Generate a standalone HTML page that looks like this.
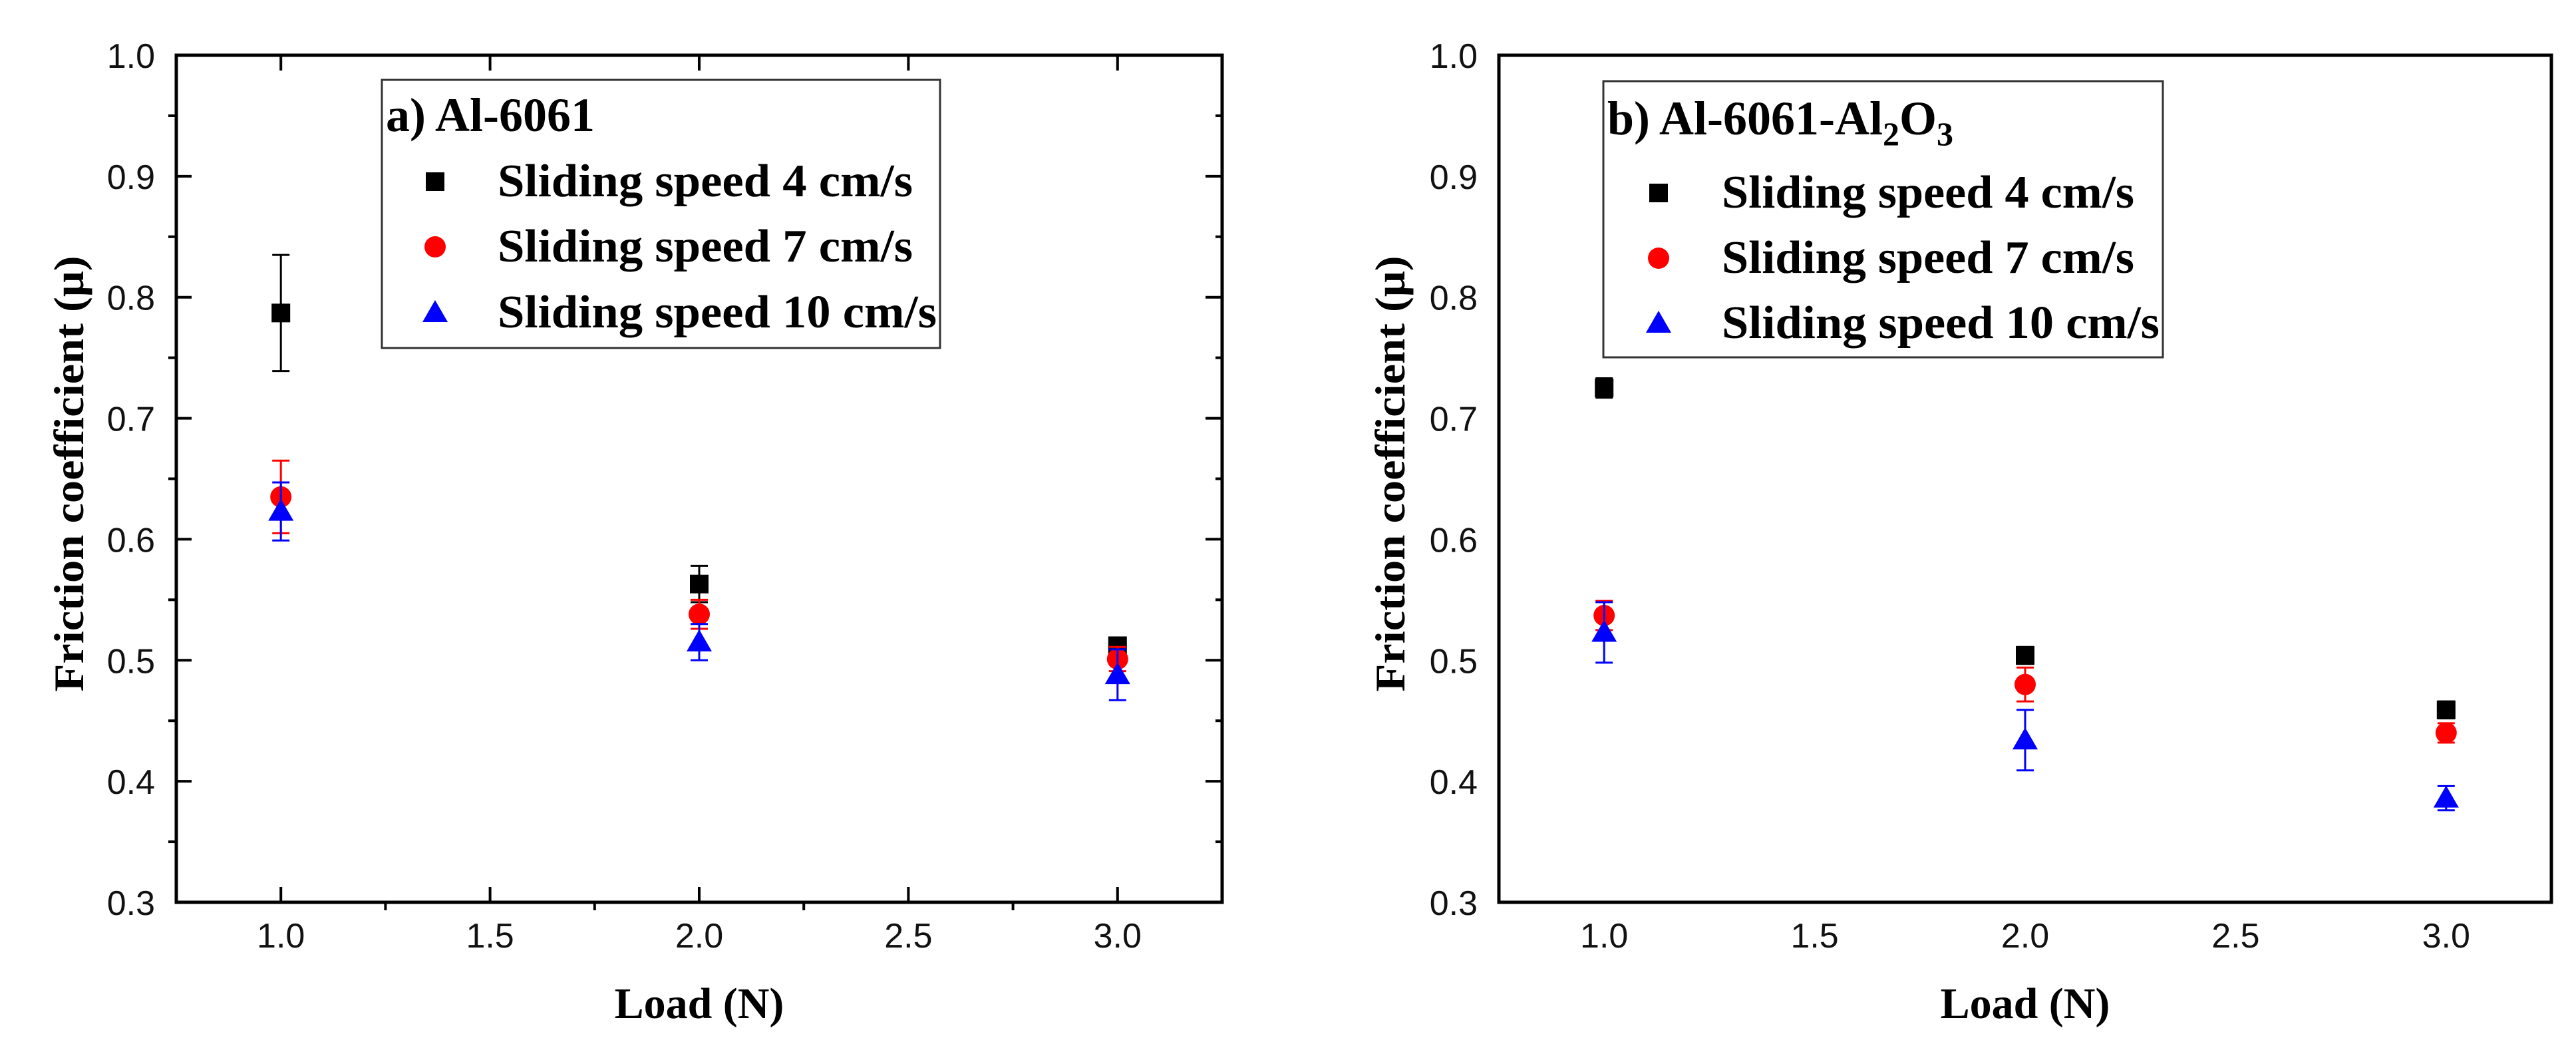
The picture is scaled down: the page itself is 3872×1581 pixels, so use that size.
<!DOCTYPE html>
<html><head><meta charset="utf-8"><style>
html,body{margin:0;padding:0;background:#fff;}
svg{display:block;}
.tick{font-family:"Liberation Sans",Arial,sans-serif;font-size:52px;fill:#111;}
.ser{font-family:"Liberation Serif","Times New Roman",serif;font-weight:bold;fill:#000;}
</style></head><body>
<svg id="chart" width="3872" height="1581" viewBox="0 0 3872 1581" xmlns="http://www.w3.org/2000/svg"></svg>
<script>
const loads = [1.0, 2.0, 3.0];
const seriesNames = ["Sliding speed 4 cm/s", "Sliding speed 7 cm/s", "Sliding speed 10 cm/s"];
const xTicks = [1.0, 1.5, 2.0, 2.5, 3.0];
const xTickLabels = ["1.0", "1.5", "2.0", "2.5", "3.0"];
const yTicks = [0.3, 0.4, 0.5, 0.6, 0.7, 0.8, 0.9, 1.0];
const yTickLabels = ["0.3", "0.4", "0.5", "0.6", "0.7", "0.8", "0.9", "1.0"];
// panel a
const aS4 = [0.787, 0.563, 0.512];
const aS4err = [0.048, 0.015, 0.005];
const aS7 = [0.635, 0.538, 0.501];
const aS7err = [0.030, 0.012, 0.010];
const aS10 = [0.623, 0.515, 0.488];
const aS10err = [0.024, 0.015, 0.021];
// panel b
const bS4 = [0.725, 0.504, 0.459];
const bS4err = [0.008, 0.007, 0.007];
const bS7 = [0.537, 0.480, 0.440];
const bS7err = [0.012, 0.014, 0.008];
const bS10 = [0.523, 0.434, 0.386];
const bS10err = [0.025, 0.025, 0.010];

const NS = "http://www.w3.org/2000/svg";
const svg = document.getElementById('chart');
function mk(tag, attrs, parent, text){
  const e = document.createElementNS(NS, tag);
  for (const k in attrs) e.setAttribute(k, attrs[k]);
  if (text !== undefined) e.textContent = text;
  (parent || svg).appendChild(e);
  return e;
}
const colors = ["#000000", "#ff0000", "#0000ff"];
const shapes = ["square", "circle", "triangle"];

function marker(g, shape, cx, cy, color){
  let m;
  if (shape === "square") m = mk('rect', {x: cx-14, y: cy-14, width: 28, height: 28, fill: color}, g);
  else if (shape === "circle") m = mk('circle', {cx: cx, cy: cy, r: 16, fill: color}, g);
  else m = mk('polygon', {points: `${cx},${cy-19} ${cx+19},${cy+14} ${cx-19},${cy+14}`, fill: color}, g);
  return m;
}

function panel(opts){
  const {left, right, top, bottom, id, data, errs, ticks} = opts;
  const xs = v => left + (v - 0.75) / 2.5 * (right - left);
  const ys = v => top + (1.0 - v) / 0.7 * (bottom - top);
  const g = mk('g', {});
  
  
  if (ticks){
    for (let v = 0.3; v <= 1.0001; v += 0.05){
      const y = ys(v);
      const major = Math.abs(Math.round(v*10) - v*10) < 0.01;
      if (major) mk('line', {x1: left, y1: y, x2: left+23, y2: y, stroke: '#000', 'stroke-width': 4}, g);
      else mk('line', {x1: left-12, y1: y, x2: left, y2: y, stroke: '#000', 'stroke-width': 4}, g);
      mk('line', {x1: right-(major?25:10), y1: y, x2: right, y2: y, stroke: '#000', 'stroke-width': 4}, g);
    }
    for (let v = 1.0; v <= 3.0001; v += 0.25){
      const x = xs(v);
      const major = Math.abs(v*2 - Math.round(v*2)) < 0.01;
      if (major){
        mk('line', {x1: x, y1: bottom-23, x2: x, y2: bottom, stroke: '#000', 'stroke-width': 4}, g);
        mk('line', {x1: x, y1: top, x2: x, y2: top+23, stroke: '#000', 'stroke-width': 4}, g);
      } else {
        mk('line', {x1: x, y1: bottom, x2: x, y2: bottom+12, stroke: '#000', 'stroke-width': 4}, g);
      }
    }
  }
  const fr = mk('rect', {x: left, y: top, width: right-left, height: bottom-top, fill: 'none', stroke: '#000', 'stroke-width': 5}, g);
  
  
  yTicks.forEach((v, i) => {
    const t = mk('text', {x: left-32, y: ys(v)+19, 'text-anchor': 'end', class: 'tick'}, g, yTickLabels[i]);
    
    
  });
  xTicks.forEach((v, i) => {
    const t = mk('text', {x: xs(v), y: bottom+68, 'text-anchor': 'middle', class: 'tick'}, g, xTickLabels[i]);
    
    
  });
  data.forEach((vals, s) => {
    const sg = mk('g', {}, g);
    
    
    vals.forEach((v, i) => {
      const x = xs(loads[i]);
      const e = errs[s][i];
      const eb = mk('path', {d: `M${x-13},${ys(v+e)}H${x+13}M${x},${ys(v+e)}V${ys(v-e)}M${x-13},${ys(v-e)}H${x+13}`, stroke: colors[s], 'stroke-width': 3, fill: 'none'}, sg);
      
      
      const m = marker(sg, shapes[s], x, ys(v), colors[s]);
      
      
    });
  });
  const L = opts.legend;
  const lg = mk('g', {}, g);
  
  
  mk('rect', {x: L.x, y: L.y, width: L.w, height: L.h, fill: '#fff', stroke: '#333', 'stroke-width': 3}, lg);
  const tt = mk('text', {x: L.x+6, y: L.titleY, class: 'ser', 'font-size': 72}, lg);
  
  
  L.title.forEach(p => { mk('tspan', p.sub ? {'font-size': 50, dy: 16} : (p.up ? {'font-size': 72, dy: -16} : {}), tt, p.t); });
  seriesNames.forEach((n, s) => {
    const y = L.rows[s];
    const m = marker(lg, shapes[s], L.mx, y-22, colors[s]);
    
    
    const t = mk('text', {x: L.tx, y: y, class: 'ser', 'font-size': 70, textLength: L.tw[s], lengthAdjust: 'spacingAndGlyphs'}, lg, n);
    
    
  });
  const xt = mk('text', {x: (left+right)/2, y: 1530, 'text-anchor': 'middle', class: 'ser', 'font-size': 66}, g, 'Load (N)');
  
  
  const yt = mk('text', {x: 0, y: 0, 'text-anchor': 'middle', class: 'ser', 'font-size': 64, transform: `translate(${opts.ytx},712) rotate(-90)`, textLength: 655, lengthAdjust: 'spacingAndGlyphs'}, g, 'Friction coefficient (\u03bc)');
  
  
}

panel({left: 265, right: 1837, top: 83, bottom: 1356, id: 'panel-a', ticks: true, ytx: 125,
  data: [aS4, aS7, aS10], errs: [aS4err, aS7err, aS10err],
  legend: {x: 574, y: 120, w: 839, h: 403, titleY: 197, title: [{t: 'a) Al-6061'}], rows: [295, 393, 492], mx: 654, tx: 748, tw: [624, 624, 660]}});
panel({left: 2253, right: 3835, top: 83, bottom: 1356, id: 'panel-b', ticks: false, ytx: 2111,
  data: [bS4, bS7, bS10], errs: [bS4err, bS7err, bS10err],
  legend: {x: 2410, y: 122, w: 841, h: 415, titleY: 202, title: [{t: 'b) Al-6061-Al'}, {t: '2', sub: true}, {t: 'O', up: true}, {t: '3', sub: true}], rows: [312, 410, 508], mx: 2493, tx: 2588, tw: [620, 620, 658]}});
</script>
</body></html>
